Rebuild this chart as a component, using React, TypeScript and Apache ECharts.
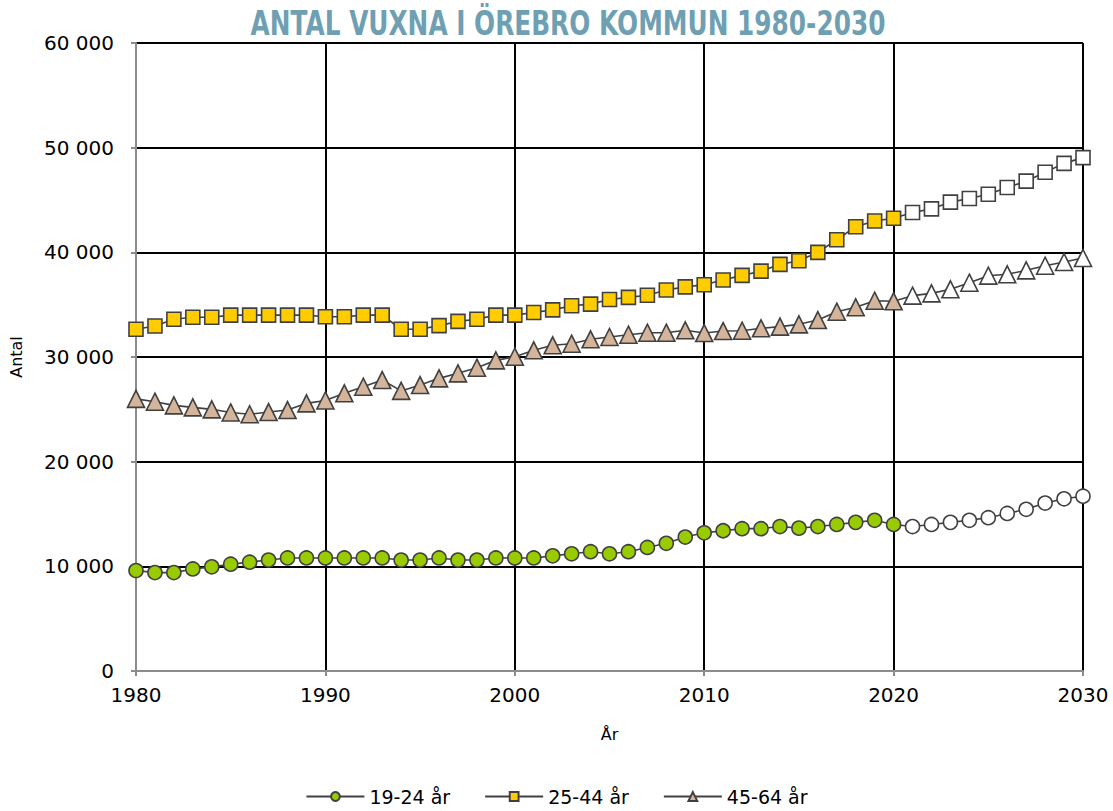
import React, { useEffect, useRef } from "react";
import * as echarts from "echarts";

const years: number[] = [];
for (let y = 1980; y <= 2030; y++) years.push(y);

const lastActualYear = 2020;

const age19_24 = [
  9600, 9400, 9400, 9750, 9950, 10200, 10400, 10600, 10800, 10800,
  10800, 10800, 10800, 10800, 10600, 10600, 10800, 10600, 10600, 10800,
  10800, 10800, 11000, 11200, 11400, 11200, 11400, 11800, 12200, 12800,
  13200, 13400, 13600, 13600, 13800, 13650, 13800, 14000, 14200, 14400,
  14000, 13800, 14000, 14200, 14400, 14650, 15050, 15450, 16050, 16450,
  16700,
];

const age25_44 = [
  32650, 32960, 33600, 33800, 33800, 34000, 34000, 34000, 34000, 34000,
  33850, 33850, 34000, 34000, 32650, 32650, 33000, 33400, 33600, 34000,
  34000, 34250, 34500, 34900, 35050, 35500, 35700, 35900, 36400, 36700,
  36900, 37350, 37800, 38200, 38850, 39200, 40000, 41200, 42450, 43000,
  43250, 43800, 44150, 44800, 45150, 45550, 46200, 46800, 47650, 48500,
  49050,
];

const age45_64 = [
  26000, 25730, 25380, 25190, 25000, 24700, 24530, 24740, 24930, 25570,
  25850, 26530, 27160, 27800, 26760, 27320, 27960, 28440, 28980, 29680,
  30030, 30640, 31120, 31270, 31690, 31910, 32130, 32320, 32320, 32550,
  32290, 32480, 32510, 32740, 32900, 33120, 33530, 34330, 34750, 35380,
  35320, 35860, 36080, 36470, 37100, 37770, 37900, 38280, 38720, 39070,
  39460,
];

const seriesNames = ["19-24 år", "25-44 år", "45-64 år"];
const seriesFills = ["#99cc00", "#ffcc00", "#d4b59b"];
const seriesSymbols = ["circle", "rect", "triangle"];
const seriesSizes = [14, 14, 17];
const seriesValues = [age19_24, age25_44, age45_64];

const titleText = "ANTAL VUXNA I ÖREBRO KOMMUN 1980-2030";
const yTicks = [0, 10000, 20000, 30000, 40000, 50000, 60000];

function fmt(v: number): string {
  return String(v).replace(/\B(?=(\d{3})+(?!\d))/g, " ");
}

export default function App() {
  const ref = useRef<HTMLDivElement>(null);

  useEffect(() => {
    if (!ref.current) return;
    const chart = echarts.init(ref.current, undefined, { renderer: "svg" });
    const font = "DejaVu Sans, Verdana, sans-serif";
    const titleFont = "DejaVu Sans, sans-serif";
    const titleSize = 34;
    const lineColor = "#404040";

    // fit the title into the reference width
    let titleScale = 0.8;
    try {
      const c = document.createElement("canvas").getContext("2d");
      if (c) {
        c.font = `bold ${titleSize}px ${titleFont}`;
        const w = c.measureText(titleText).width;
        if (w > 0) titleScale = 635 / w;
      }
    } catch (e) {}

    const series = seriesValues.map((vals, si) => ({
      name: seriesNames[si],
      type: "line",
      symbol: seriesSymbols[si],
      symbolSize: seriesSizes[si],
      showAllSymbol: true,
      color: seriesFills[si],
      lineStyle: { color: lineColor, width: 1.6 },
      itemStyle: { color: seriesFills[si], borderColor: lineColor, borderWidth: 1.6 },
      emphasis: { disabled: true },
      data: vals.map((v, i) => ({
        value: [years[i], v],
        itemStyle: {
          color: years[i] > lastActualYear ? "#ffffff" : seriesFills[si],
          borderColor: lineColor,
          borderWidth: 1.6,
        },
      })),
      z: 3 + si,
    }));

    chart.setOption({
      animation: false,
      backgroundColor: "#ffffff",
      graphic: [
        {
          type: "text",
          x: 568,
          y: 23,
          scaleX: titleScale,
          scaleY: 1,
          style: {
            text: titleText,
            fontFamily: titleFont,
            fontWeight: "bold",
            fontSize: titleSize,
            fill: "#6f9fb3",
            align: "center",
            verticalAlign: "middle",
          },
        },
      ],
      legend: {
        bottom: 0,
        left: "center",
        itemWidth: 58,
        itemHeight: 11,
        itemGap: 34,
        data: seriesNames,
        textStyle: { fontFamily: font, fontSize: 19, color: "#000" },
      },
      grid: { left: 132, right: 30, top: 43, bottom: 140, containLabel: false },
      xAxis: {
        type: "value",
        min: 1980,
        max: 2030,
        interval: 10,
        name: "År",
        nameLocation: "middle",
        nameGap: 55,
        nameTextStyle: { fontFamily: font, fontSize: 16, color: "#000" },
        axisLine: { show: true, onZero: false, lineStyle: { color: "#8c8c8c", width: 2 } },
        axisTick: { show: true, length: 5, lineStyle: { color: "#8c8c8c", width: 2 } },
        axisLabel: { fontFamily: font, fontSize: 20, color: "#000", margin: 14, formatter: (v: number) => String(v) },
        splitLine: { show: true, lineStyle: { color: "#000", width: 2 } },
      },
      yAxis: {
        type: "value",
        min: 0,
        max: 60000,
        interval: 10000,
        name: "Antal",
        nameLocation: "middle",
        nameGap: 112,
        nameRotate: 90,
        nameTextStyle: { fontFamily: font, fontSize: 16, color: "#000" },
        axisLine: { show: true, lineStyle: { color: "#8c8c8c", width: 2 } },
        axisTick: { show: true, length: 5, lineStyle: { color: "#8c8c8c", width: 2 } },
        axisLabel: {
          fontFamily: font,
          fontSize: 20,
          color: "#000",
          margin: 22,
          formatter: (v: number) => (yTicks.indexOf(v) >= 0 ? fmt(v) : ""),
        },
        splitLine: { show: true, lineStyle: { color: "#000", width: 2 } },
      },
      series,
    });

    return () => chart.dispose();
  }, []);

  return (
    <div
      ref={ref}
      style={{ position: "fixed", left: 0, top: 0, width: 1113, height: 811, background: "#fff" }}
    />
  );
}
